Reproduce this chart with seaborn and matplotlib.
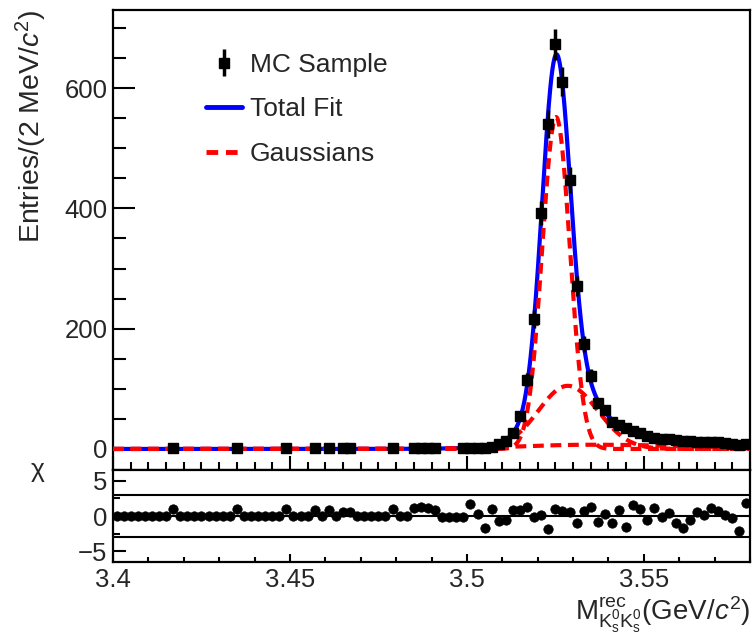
import numpy as np
import pandas as pd
import seaborn as sns
import matplotlib
matplotlib.use("Agg")
import matplotlib.pyplot as plt
from matplotlib.ticker import MultipleLocator, FixedLocator
from matplotlib.lines import Line2D

# ---------------- data ----------------
bin_low = 3.40
bin_width = 0.002
n_bins = 90
bin_centers = np.round(bin_low + bin_width * (np.arange(n_bins) + 0.5), 4)

counts = [
    0, 0, 0, 0, 0, 0, 0, 0, 1, 0,
    0, 0, 0, 0, 0, 0, 0, 1, 0, 0,
    0, 0, 0, 0, 1, 0, 0, 0, 1, 0,
    1, 0, 1, 1, 0, 0, 0, 0, 0, 1,
    0, 0, 1, 1, 1, 1, 0, 0, 0, 1,
    1, 1, 2, 4, 8, 14, 27, 54, 115, 216,
    392, 540, 673, 611, 447, 271, 175, 122, 76, 65,
    44, 40, 35, 30, 26, 22, 19, 17, 16, 15,
    13, 13, 12, 12, 12, 11, 10, 9, 7, 9,
]

pulls = [
    0, 0, 0, 0, 0, 0, 0, 0, 1.0, 0,
    0, 0, 0, 0, 0, 0, 0, 1.0, 0, 0,
    0, 0, 0, 0, 1.0, 0, 0, 0, 0.9, 0,
    0.9, 0, 0.6, 0.5, 0, 0, 0, 0, 0, 1.0,
    0, 0, 1.1, 1.3, 1.2, 0.9, -0.1, -0.2, -0.2, -0.2,
    1.7, 0.3, -1.7, 1.0, -0.7, -0.5, 0.8, 0.8, 1.3, -0.2,
    0.2, -1.8, 1.0, 0.7, 0.5, -1.0, 0.7, 1.3, -0.8, 0.3,
    -1.0, 0.8, -1.6, 1.6, 1.0, -0.6, 1.1, -0.2, 0.4, -1.0,
    -1.7, -0.6, 0.5, 0.2, 1.1, 0.7, 0.2, -0.3, -2.1, 1.8,
]

# fit components: amplitude per bin, mean, sigma_left, sigma_right
gauss_amp = [552.0, 105.0, 7.0]
gauss_mean = [3.5252, 3.5285, 3.535]
gauss_sig_l = [0.0039, 0.0083, 0.020]
gauss_sig_r = [0.0039, 0.0085, 0.030]
# extra (non-Gaussian-labelled) part of the total fit in the high-mass tail
tail_amp, tail_mean, tail_sig_l, tail_sig_r = 9.0, 3.552, 0.012, 0.030

x_ticklabels = ["3.4", "3.45", "3.5", "3.55"]


def bifur(x, a, m, sl, sr):
    s = np.where(x < m, sl, sr)
    return a * np.exp(-0.5 * ((x - m) / s) ** 2)


# ---------------- model curves ----------------
xg = np.linspace(3.40, 3.58, 1200)
comps = [bifur(xg, a, m, sl, sr)
         for a, m, sl, sr in zip(gauss_amp, gauss_mean, gauss_sig_l, gauss_sig_r)]
total = np.sum(comps, axis=0) + bifur(xg, tail_amp, tail_mean, tail_sig_l, tail_sig_r)

df = pd.DataFrame({"x": bin_centers, "n": counts, "pull": pulls})
dfd = df[df["n"] > 0]

# ---------------- style ----------------
sns.set_theme(style="white")
plt.rcParams["font.family"] = ["Liberation Sans", "DejaVu Sans"]
plt.rcParams["mathtext.fontset"] = "custom"
plt.rcParams["mathtext.rm"] = "Liberation Sans"
plt.rcParams["mathtext.it"] = "Liberation Sans:italic"
plt.rcParams["mathtext.bf"] = "Liberation Sans:bold"

W, H = 753, 636
fig = plt.figure(figsize=(W / 100, H / 100), dpi=100)
L, R = 113 / W, 750 / W
ax1 = fig.add_axes([L, 1 - 470 / H, R - L, (470 - 10) / H])
ax2 = fig.add_axes([L, 1 - 562 / H, R - L, (562 - 470) / H])

# main panel
sns.lineplot(x=xg, y=total, ax=ax1, color="#0000ff", lw=3.0, zorder=3)
for c in comps:
    sns.lineplot(x=xg, y=c, ax=ax1, color="#ff0000", lw=3.0, zorder=4,
                 linestyle=(0, (2.6, 1.6)))
ax1.errorbar(dfd["x"], dfd["n"], yerr=np.sqrt(dfd["n"]), fmt="s", color="black",
             ms=7.5, elinewidth=2.5, capsize=0, zorder=5)

ax1.set_xlim(3.40, 3.58)
ax1.set_ylim(-35, 730)
ax1.yaxis.set_major_locator(FixedLocator([0, 200, 400, 600]))
ax1.yaxis.set_minor_locator(MultipleLocator(50))
ax1.xaxis.set_major_locator(MultipleLocator(0.05))
ax1.xaxis.set_minor_locator(MultipleLocator(0.005))
ax1.set_xticklabels([])
ax1.set_ylabel(r"Entries/(2 MeV/$c^{2}$)", fontsize=20.5, loc="top", labelpad=11)
ax1.tick_params(axis="y", labelsize=18.5, pad=4)

# legend
h_data = ax1.errorbar([], [], yerr=[], fmt="s", color="black", ms=7.5, elinewidth=2.5)
h_tot = Line2D([], [], color="#0000ff", lw=3.5)
h_g = Line2D([], [], color="#ff0000", lw=3.5, linestyle=(0, (2.4, 1.6)))
ax1.legend([h_data, h_tot, h_g], ["MC Sample", "Total Fit", "Gaussians"],
           loc="upper left", bbox_to_anchor=(0.13, 0.93), frameon=False,
           fontsize=19, handlelength=1.35, handletextpad=0.3, labelspacing=0.78,
           borderaxespad=0.0)

# pull panel
for yv in (3, 0, -3):
    ax2.axhline(yv, color="black", lw=1.5, zorder=1)
sns.scatterplot(data=df, x="x", y="pull", ax=ax2, color="black", s=46,
                edgecolor="black", linewidth=0.5, zorder=3)
ax2.set_xlim(3.40, 3.58)
ax2.set_ylim(-6.5, 6.5)
ax2.yaxis.set_major_locator(FixedLocator([-5, 0, 5]))
ax2.yaxis.set_minor_locator(MultipleLocator(2.5))
ax2.xaxis.set_major_locator(FixedLocator([3.40, 3.45, 3.50, 3.55]))
ax2.xaxis.set_minor_locator(MultipleLocator(0.01))
ax2.set_xticklabels(x_ticklabels)
ax2.set_yticklabels(["\u22125", "0", "5"])
ax2.set_ylabel("")
ax2.set_xlabel(r"M$^{\rm rec}_{\rm K^0_s K^0_s}$(GeV/$c^{2}$)", fontsize=20,
               loc="right", labelpad=2)
fig.text(38 / W, 1 - 470 / H, "\u03c7", fontsize=19, ha="center", va="center")

for ax in (ax1, ax2):
    for sp in ax.spines.values():
        sp.set_linewidth(1.6)
        sp.set_color("black")
    ax.tick_params(which="both", direction="in", top=False, right=False,
                   left=True, bottom=True, color="black", width=1.5)

ax1.tick_params(axis="y", which="major", length=16)
ax1.tick_params(axis="y", which="minor", length=9)
ax1.tick_params(axis="x", which="major", length=10)
ax1.tick_params(axis="x", which="minor", length=6)
ax2.tick_params(axis="y", which="major", length=9)
ax2.tick_params(axis="y", which="minor", length=5)
ax2.tick_params(axis="x", which="major", length=6)
ax2.tick_params(axis="x", which="minor", length=3.5)
ax2.tick_params(axis="both", labelsize=18.5)
ax2.tick_params(axis="x", pad=4)
ax2.tick_params(axis="y", pad=4)

fig.savefig("out.png", dpi=100)
